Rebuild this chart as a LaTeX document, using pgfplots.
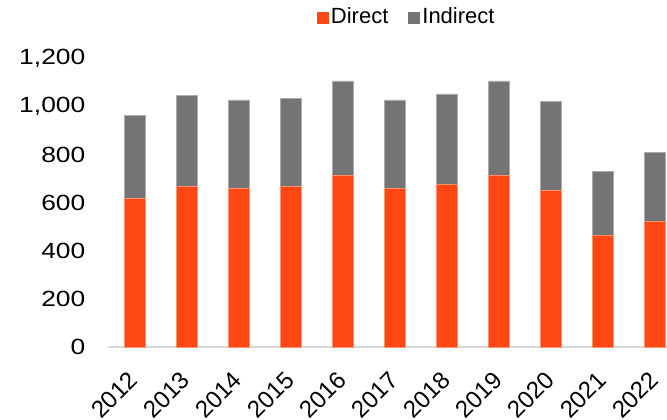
\documentclass[border=0pt]{standalone}
\usepackage{pgfplots}
\pgfplotsset{compat=1.18}
\usepackage{fontspec}
\setmainfont{Liberation Sans}
\newfontfamily\widefont[FakeStretch=1.2]{Liberation Sans}
\definecolor{dir}{HTML}{FF4713}
\definecolor{ind}{HTML}{747474}
\begin{document}
\fontsize{22}{26}\selectfont
\begin{tikzpicture}
\begin{axis}[
  at={(0,0)}, anchor=south west,
  scale only axis, width=558.5pt, height=288.4pt,
  ybar stacked, bar width=21pt,
  xmin=-0.5, xmax=10.23, ymin=0, ymax=1200,
  xtick=data,
  xticklabels={2012,2013,2014,2015,2016,2017,2018,2019,2020,2021,2022},
  ytick={0,200,400,600,800,1000,1200},
  major tick length=0pt,
  axis line style={draw=none},
  /pgf/number format/assume math mode=true,
  /pgf/number format/1000 sep={,},
  yticklabel style={inner sep=0pt, xshift=-23pt, font=\widefont\fontsize{22}{26}\selectfont},
  xticklabel style={rotate=45, anchor=north east, inner sep=0pt, xshift=-21pt, yshift=-11pt, font=\fontsize{24}{28}\selectfont},
  legend columns=2,
  legend style={draw=none, at={(0.534,1.1425)}, anchor=center, font=\fontsize{22}{26}\selectfont,
    /tikz/every even column/.append style={column sep=18pt}},
  legend image code/.code={\fill[#1, draw=none] (0pt,-6pt) rectangle (12pt,6pt);},
  clip=false,
]
\addplot[fill=dir, draw=dir!60!white, line width=0.8pt] coordinates {
(0,619) (1,669) (2,659) (3,667) (4,716) (5,659) (6,675) (7,716) (8,650) (9,466) (10,523)};
\addlegendentry{Direct}
\addplot[fill=ind, draw=ind!60!white, line width=0.8pt] coordinates {
(0,345) (1,376) (2,369) (3,369) (4,391) (5,369) (6,378) (7,391) (8,370) (9,266) (10,288)};
\addlegendentry{Indirect}
\draw[black!15, line width=1.5pt] (rel axis cs:0,0) -- (rel axis cs:1,0);
\end{axis}
\pgfresetboundingbox
\path[use as bounding box] (-108.5pt,-73pt) rectangle (558.5pt,347pt);
\end{tikzpicture}
\end{document}
